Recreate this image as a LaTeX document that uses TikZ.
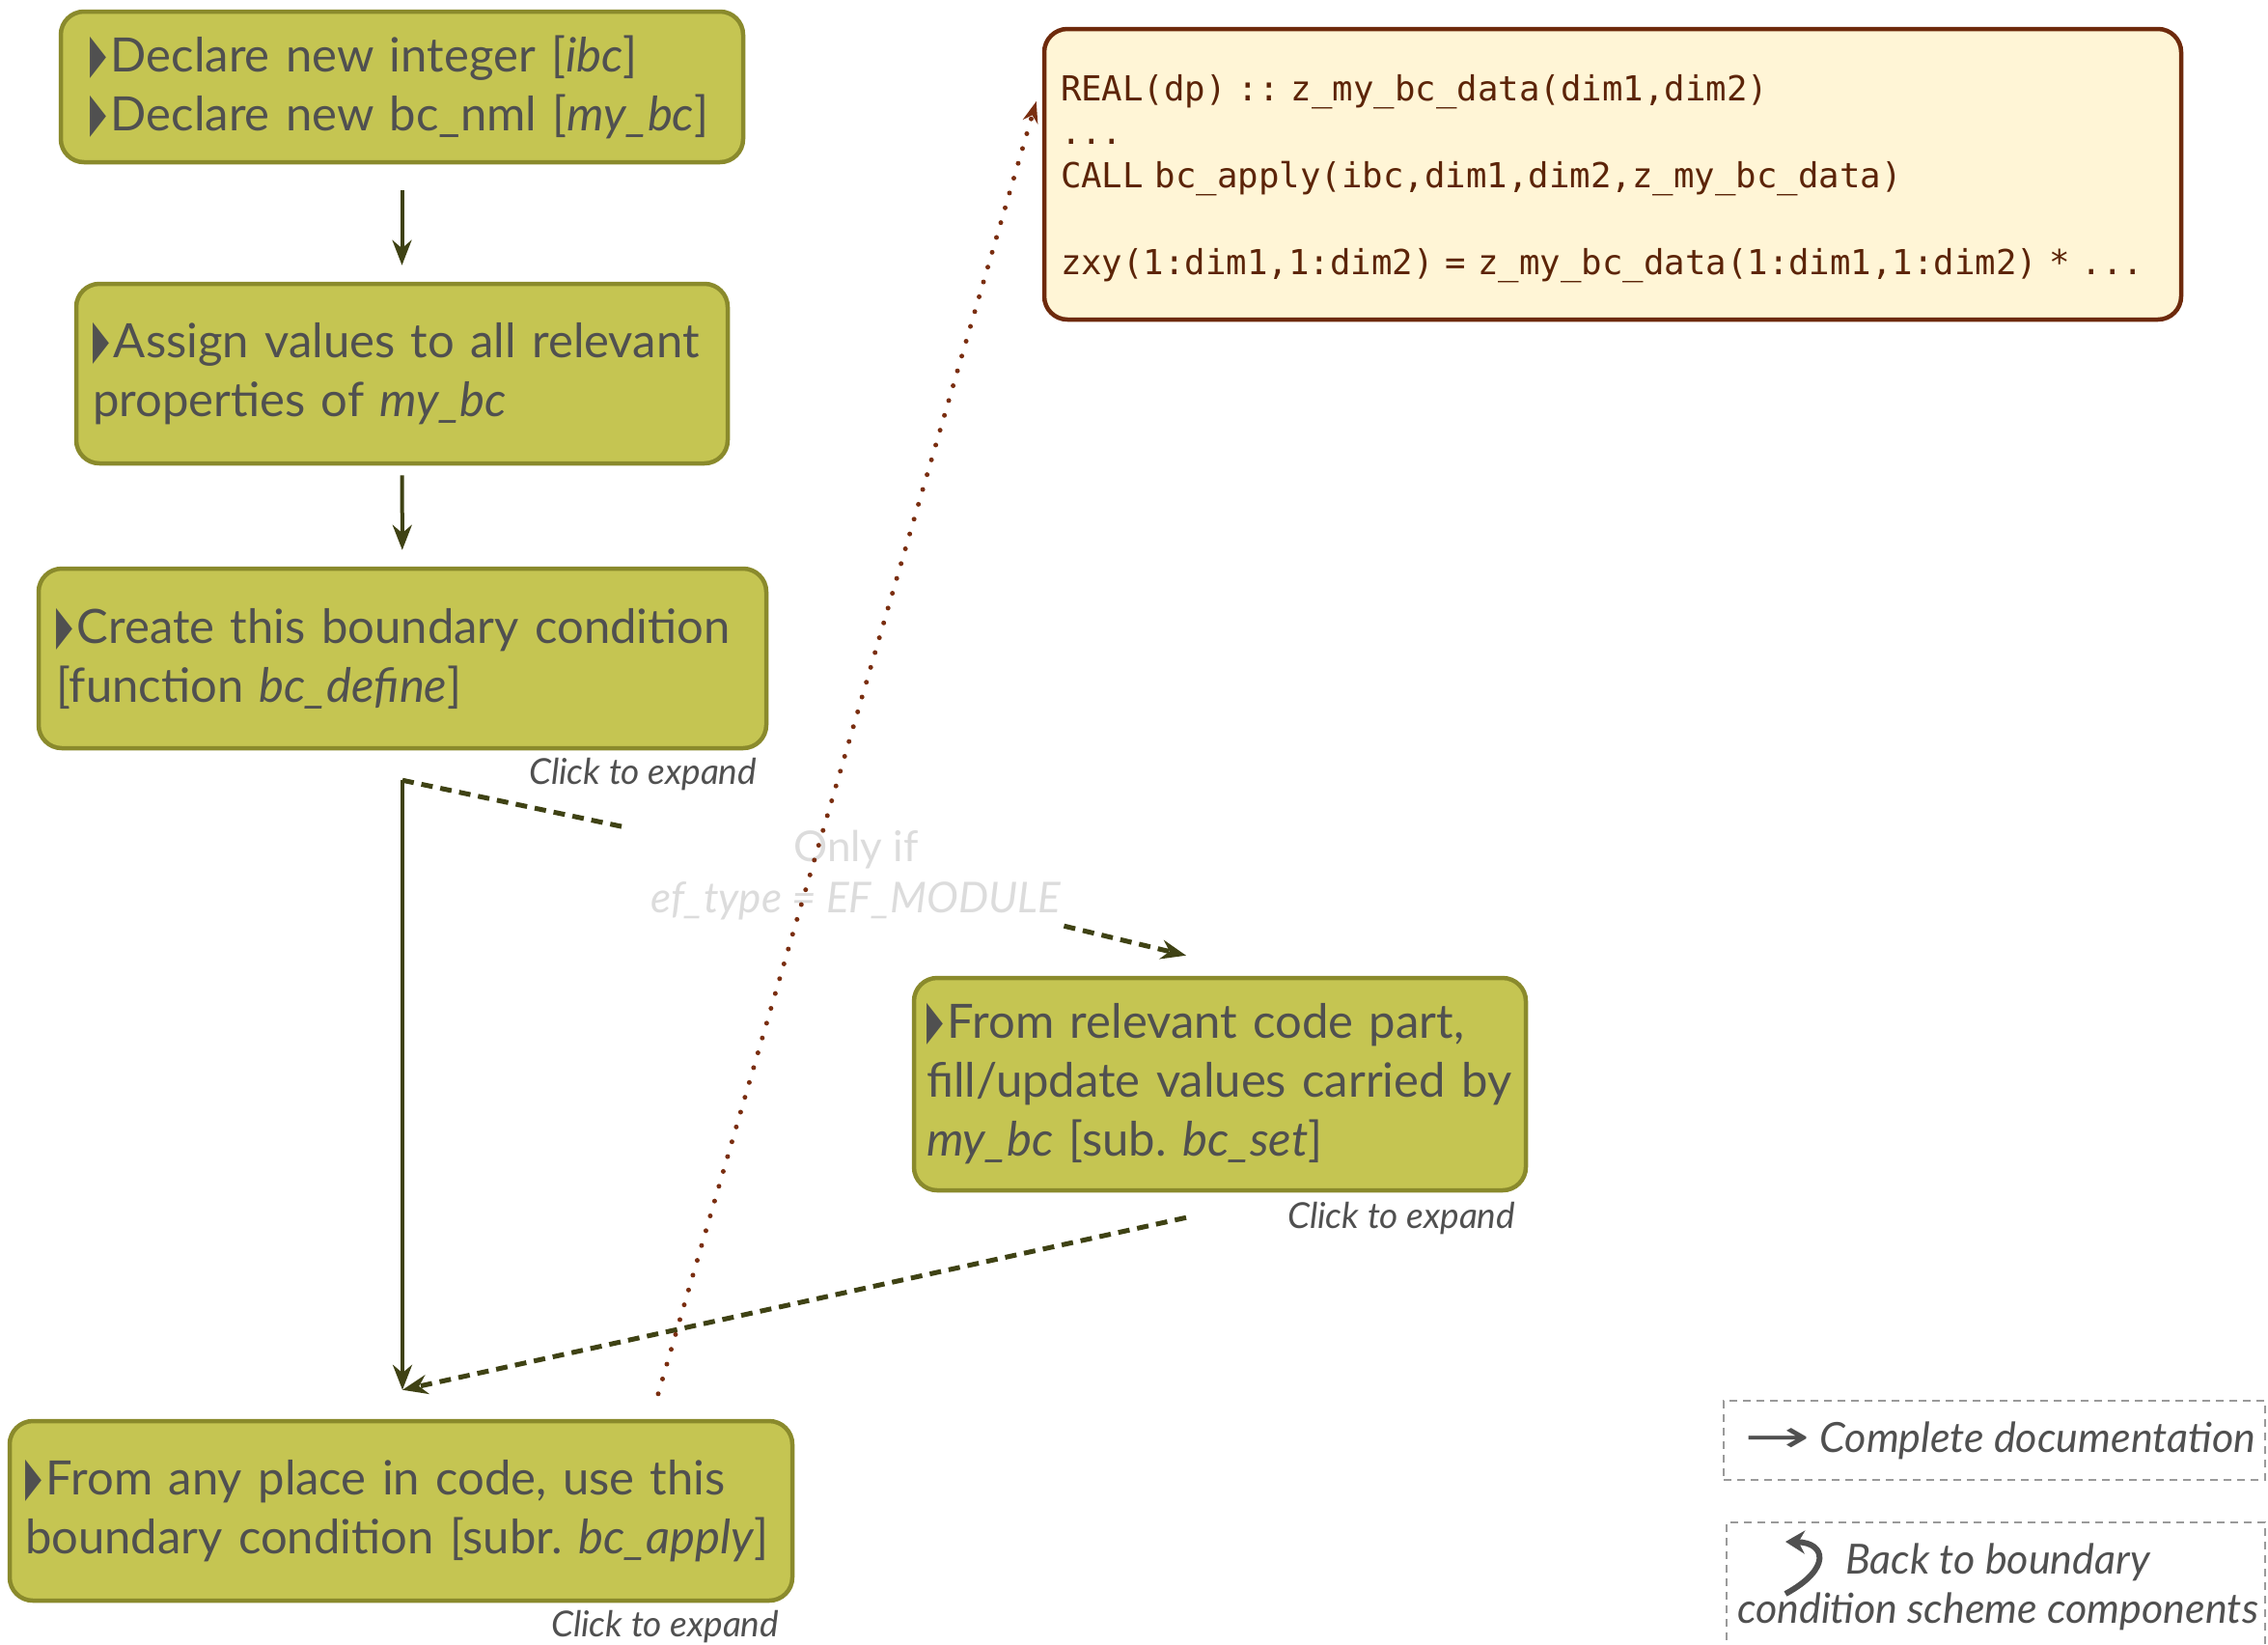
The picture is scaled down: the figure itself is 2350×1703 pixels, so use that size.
\documentclass[tikz,border=0pt]{standalone}
\usepackage{fontspec}
\usepackage{graphicx}
\setmainfont{Lato}
\newfontfamily\symfont{DejaVu Sans}
\newfontfamily\codefont{DejaVu Sans Mono}
\usetikzlibrary{arrows.meta,calc}
\definecolor{boxfill}{HTML}{C5C552}
\definecolor{boxline}{HTML}{8A8A2C}
\definecolor{txt}{HTML}{505050}
\definecolor{flowc}{HTML}{3F4214}
\definecolor{codefill}{HTML}{FFF5D6}
\definecolor{codeline}{HTML}{6E2A0C}
\definecolor{codetxt}{HTML}{5C2408}
\definecolor{dotc}{HTML}{7A2E10}
\definecolor{lblc}{HTML}{DCDCDC}
\definecolor{legc}{HTML}{9A9A9A}
\newcommand{\bul}{{\symfont\raisebox{0pt}{\scalebox{0.45}[1.15]{▶}}}\hspace{5pt}}
\frenchspacing
\begin{document}
\begin{tikzpicture}[x=1pt,y=-1pt,
  greenbox/.style={draw=boxline, fill=boxfill, line width=4.5pt, rounded corners=24pt,
    align=left, text=txt, font=\fontsize{49}{61}\selectfont, inner ysep=0pt},
  clicklbl/.style={anchor=east, text=txt, font=\fontsize{37}{42}\selectfont\itshape, inner sep=0pt},
  flow/.style={draw=flowc, line width=4pt, -{Stealth[length=26pt,width=20pt]}},
  dflow/.style={draw=flowc, line width=5pt, dash pattern=on 12pt off 8pt},
  dotline/.style={draw=dotc, line width=5pt, line cap=round, dash pattern=on 0pt off 16pt},
  legbox/.style={draw=legc, line width=2pt, dash pattern=on 8pt off 6pt},
  legtxt/.style={text=txt, font=\fontsize{43}{51}\selectfont\itshape, align=center, inner sep=0pt}
]
\useasboundingbox (0,0) rectangle (2350,1703);

% green boxes
\node[greenbox, minimum height=156pt, inner xsep=30pt, text width=647pt] (b1) at (416.5,90)
  {\bul Declare new integer [\textit{ibc}]\\\bul Declare new bc\_nml [\textit{my\_bc}]};
\node[greenbox, minimum height=186pt, inner xsep=17pt, text width=641pt] (b2) at (416.5,387)
  {\bul Assign values to all relevant\\properties of \textit{my\_bc}};
\node[greenbox, minimum height=186pt, inner xsep=18pt, text width=718pt] (b3) at (417,682)
  {\bul Create this boundary condition\\{}[function \textit{bc\_define}]};
\node[greenbox, minimum height=220pt, inner xsep=13pt, text width=608pt] (b4) at (1264,1123)
  {\bul From relevant code part,\\fill/update values carried by\\\textit{my\_bc} [sub. \textit{bc\_set}]};
\node[greenbox, minimum height=186pt, inner xsep=16pt, text width=779pt] (b5) at (415.5,1565)
  {\bul From any place in code, use this\\boundary condition [subr. \textit{bc\_apply}]};

% click labels
\node[clicklbl] (c3) at ($(b3.south east)+(-12,25)$) {Click to expand};
\node[clicklbl] (c4) at ($(b4.south east)+(-13,27)$) {Click to expand};
\node[clicklbl] (c5) at ($(b5.south east)+(-16,25)$) {Click to expand};

% code box
\node[draw=codeline, fill=codefill, line width=4.5pt, rounded corners=24pt,
  minimum height=301pt, inner xsep=17pt, inner ysep=0pt, text width=1144pt, align=left,
  text=codetxt, font=\codefont\fontsize{35.7}{45}\selectfont] (code) at (1671,180.5)
  {\rule{0pt}{37pt}REAL(dp) :: z\_my\_bc\_data(dim1,dim2)\\
   ...\\
   CALL bc\_apply(ibc,dim1,dim2,z\_my\_bc\_data)\\
   \mbox{}\\
   zxy(1:dim1,1:dim2) = z\_my\_bc\_data(1:dim1,1:dim2) * ...};

% condition label
\node[text=lblc, font=\fontsize{44}{53}\selectfont, align=center, inner sep=0pt,
  minimum width=470pt, minimum height=104pt] (lbl) at (887,907)
  {Only if\\\textit{ef\_type = EF\_MODULE}};

% connector points
\coordinate (s3) at ($(b3.south)+(0,31)$);
\coordinate (t5) at ($(b5.north)+(1.5,-30)$);
\coordinate (t4) at ($(b4.north)+(-35,-21)$);
\coordinate (s4) at ($(b4.south)+(-35,26)$);
\coordinate (s5) at ($(b5.north)+(266.5,-26)$);
\coordinate (tc) at ($(code.west)+(-6,-75.5)$);

% connectors
\draw[flow, shorten <=27pt, shorten >=17pt] (b1) -- (b2);
\draw[flow, shorten <=10pt, shorten >=17pt] (b2) -- (b3);
\draw[flow] (s3) -- (t5);
\draw[dflow] (s3) -- (lbl);
\draw[dflow, -{Stealth[length=26pt,width=20pt]}] (lbl) -- (t4);
\draw[dflow, -{Stealth[length=26pt,width=20pt]}] (s4) -- (t5);
\draw[dotline, -{Stealth[length=22pt,width=16pt]}] (s5) -- (tc);

% legend
\node[legbox, minimum width=561pt, minimum height=82pt, inner sep=0pt] (la) at (2066.5,1492) {};
\node[legtxt] (lat) at (2072,1492) {{\upshape\symfont\scalebox{1.9}[1.1]{→}}\ Complete documentation};
\node[legbox, minimum width=558pt, minimum height=170pt, inner sep=0pt] (lb) at (2068,1662) {};
\node[legtxt, font=\fontsize{43}{51}\selectfont\itshape] (lbt) at (2070,1644) {Back to boundary\\condition scheme components};
\draw[draw=txt, line width=6pt, -{Stealth[length=20pt,width=24pt]}]
  (1850,1651) .. controls (1898,1625) and (1892,1598) .. (1850,1597);
\end{tikzpicture}
\end{document}
